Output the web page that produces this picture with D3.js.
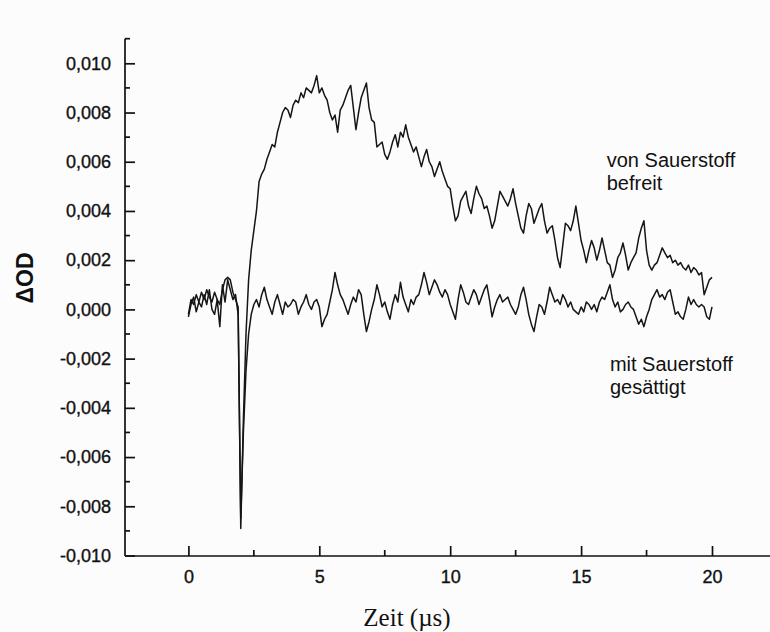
<!DOCTYPE html>
<html>
<head>
<meta charset="utf-8">
<script src="https://cdn.jsdelivr.net/npm/d3@7"></script>
<style>
  html, body { margin: 0; padding: 0; background: #fcfcfc; }
  svg { display: block; }
  .tick text { font-family: "Liberation Sans", Arial, sans-serif; font-size: 18px; fill: #111; stroke: #111; stroke-width: 0.35px; }
</style>
</head>
<body>
<svg id="chart" width="770" height="632"></svg>
<script>
// Transient absorption traces (ΔOD vs. time), sampled every 0.1 µs from 0 to 20 µs
const sampleStep = 0.1;

// Solution freed of oxygen: bleach spike at ~2 µs, then a slow-decaying absorption
const deoxygenated = [
  -0.0002, 0.0004, 0.0002, 0.0006, 0.0003, 0.0007, 0.0004, 0.0008, 0.0005, 0.0003,
  0.0007, 0.0004, 0.0002, 0.0008, 0.0012, 0.0013, 0.0012, 0.0007, 0.0004, 0.0001,
  -0.0089, -0.0045, -0.0010, 0.0012, 0.0024, 0.0032, 0.0040, 0.0052, 0.0055, 0.0057,
  0.0061, 0.0064, 0.0067, 0.0066, 0.0072, 0.0076, 0.0080, 0.0082, 0.0081, 0.0078,
  0.0083, 0.0085, 0.0084, 0.0088, 0.0086, 0.0090, 0.0089, 0.0088, 0.0091, 0.0095,
  0.0088, 0.0090, 0.0087, 0.0085, 0.0080, 0.0077, 0.0079, 0.0072, 0.0081, 0.0083,
  0.0086, 0.0089, 0.0091, 0.0082, 0.0073, 0.0080, 0.0086, 0.0089, 0.0092, 0.0082,
  0.0077, 0.0076, 0.0066, 0.0067, 0.0068, 0.0063, 0.0061, 0.0064, 0.0068, 0.0071,
  0.0066, 0.0072, 0.0070, 0.0075, 0.0070, 0.0067, 0.0064, 0.0066, 0.0062, 0.0058,
  0.0062, 0.0065, 0.0060, 0.0058, 0.0054, 0.0057, 0.0060, 0.0056, 0.0053, 0.0050,
  0.0049, 0.0042, 0.0036, 0.0038, 0.0044, 0.0046, 0.0048, 0.0042, 0.0039, 0.0045,
  0.0050, 0.0047, 0.0045, 0.0041, 0.0042, 0.0038, 0.0033, 0.0036, 0.0042, 0.0048,
  0.0046, 0.0044, 0.0042, 0.0045, 0.0049, 0.0043, 0.0038, 0.0033, 0.0031, 0.0038,
  0.0043, 0.0041, 0.0035, 0.0038, 0.0041, 0.0043, 0.0036, 0.0031, 0.0033, 0.0034,
  0.0028, 0.0021, 0.0017, 0.0026, 0.0035, 0.0034, 0.0032, 0.0036, 0.0042, 0.0035,
  0.0028, 0.0024, 0.0019, 0.0024, 0.0028, 0.0025, 0.0020, 0.0024, 0.0029, 0.0024,
  0.0019, 0.0018, 0.0013, 0.0016, 0.0021, 0.0023, 0.0027, 0.0022, 0.0016, 0.0019,
  0.0021, 0.0023, 0.0029, 0.0033, 0.0036, 0.0024, 0.0018, 0.0016, 0.0018, 0.0019,
  0.0022, 0.0025, 0.0023, 0.0021, 0.0022, 0.0019, 0.0020, 0.0018, 0.0019, 0.0017,
  0.0016, 0.0018, 0.0015, 0.0017, 0.0016, 0.0014, 0.0015, 0.0006, 0.0009, 0.0012,
  0.0013
];

// Oxygen-saturated solution: the same spike, then only baseline noise
const oxygenated = [
  -0.0003, 0.0002, 0.0005, -0.0001, 0.0003, 0.0001, 0.0006, 0.0002, 0.0008, 0.0000,
  -0.0002, 0.0004, -0.0007, 0.0010, 0.0003, 0.0012, 0.0008, 0.0004, 0.0006, -0.0002,
  -0.0085, -0.0050, -0.0025, -0.0010, -0.0002, 0.0002, 0.0004, 0.0001, 0.0006, 0.0009,
  0.0004, 0.0001, -0.0002, 0.0003, 0.0006, 0.0002, -0.0002, 0.0003, 0.0001, 0.0002,
  0.0004, 0.0003, -0.0002, 0.0001, 0.0003, 0.0006, 0.0002, 0.0000, 0.0003, 0.0004,
  0.0001, -0.0007, -0.0004, -0.0002, 0.0003, 0.0008, 0.0015, 0.0010, 0.0006, 0.0004,
  0.0001, -0.0002, 0.0002, 0.0005, 0.0003, 0.0008, 0.0006, -0.0002, -0.0009, -0.0005,
  0.0000, 0.0004, 0.0010, 0.0006, 0.0001, 0.0003, -0.0001, -0.0004, 0.0002, 0.0006,
  0.0003, 0.0011, 0.0005, 0.0002, -0.0001, 0.0004, 0.0002, 0.0005, 0.0006, 0.0010,
  0.0015, 0.0011, 0.0006, 0.0009, 0.0012, 0.0010, 0.0007, 0.0005, 0.0008, 0.0006,
  0.0002, -0.0001, -0.0004, 0.0004, 0.0010, 0.0007, 0.0003, 0.0002, 0.0005, 0.0008,
  0.0006, 0.0002, 0.0005, 0.0008, 0.0010, 0.0004, -0.0003, 0.0001, 0.0004, 0.0006,
  0.0003, 0.0004, 0.0005, 0.0002, 0.0000, -0.0002, 0.0001, 0.0006, 0.0009, 0.0004,
  -0.0002, -0.0006, -0.0009, -0.0003, 0.0002, 0.0001, -0.0002, 0.0003, 0.0009, 0.0006,
  0.0003, 0.0004, 0.0002, 0.0006, 0.0004, 0.0001, 0.0003, 0.0000, -0.0001, -0.0002,
  0.0001, -0.0001, 0.0003, 0.0002, 0.0000, 0.0002, -0.0001, 0.0003, 0.0005, 0.0004,
  0.0007, 0.0010, 0.0004, 0.0001, 0.0003, -0.0001, 0.0000, 0.0002, 0.0003, 0.0001,
  0.0000, -0.0003, -0.0006, -0.0004, -0.0007, -0.0003, 0.0000, 0.0004, 0.0006, 0.0008,
  0.0005, 0.0006, 0.0004, 0.0007, 0.0008, 0.0003, -0.0002, -0.0001, -0.0003, -0.0004,
  0.0000, 0.0005, 0.0002, 0.0004, 0.0002, 0.0001, 0.0002, 0.0001, -0.0003, -0.0004,
  0.0001
];

const xTickValues = [0, 5, 10, 15, 20];
const xMinorValues = [2.5, 7.5, 12.5, 17.5];
const yTickValues = [-0.010, -0.008, -0.006, -0.004, -0.002, 0.000, 0.002, 0.004, 0.006, 0.008, 0.010];
const yMinorValues = [-0.009, -0.007, -0.005, -0.003, -0.001, 0.001, 0.003, 0.005, 0.007, 0.009, 0.011];

const seriesLabels = [
  { lines: ["von Sauerstoff", "befreit"], t: 15.98, v: 0.0058 },
  { lines: ["mit Sauerstoff", "gesättigt"], t: 16.1, v: -0.0025 }
];
const xTitle = "Zeit (µs)";
const yTitle = "ΔOD";

// ---- drawing ----
const svg = d3.select("#chart");
const axisLeftX = 125, axisBottomY = 556;

const x = d3.scaleLinear().domain([0, 20]).range([188.4, 712]);
const y = d3.scaleLinear().domain([-0.010, 0.010]).range([555.5, 63.3]);

const locale = d3.formatLocale({ decimal: ",", thousands: ".", grouping: [3], currency: ["", " €"], minus: "-" });
const fmt3 = locale.format(".3f");

const ink = "#111";

// y axis: major ticks with labels, minor ticks in between, all pointing inward
const gy = svg.append("g").attr("transform", `translate(${axisLeftX},0)`);
gy.call(d3.axisLeft(y).tickValues(yTickValues).tickFormat(fmt3).tickSize(-10).tickPadding(14));
gy.append("g").selectAll("line").data(yMinorValues).join("line")
  .attr("x1", 0).attr("x2", 5).attr("y1", d => y(d)).attr("y2", d => y(d));
gy.select(".domain").remove();
gy.append("line").attr("x1", 0).attr("x2", 0).attr("y1", y(0.011)).attr("y2", axisBottomY);
gy.selectAll("line").attr("stroke", ink).attr("stroke-width", 1.7);

// x axis
const gx = svg.append("g").attr("transform", `translate(0,${axisBottomY})`);
gx.call(d3.axisBottom(x).tickValues(xTickValues).tickFormat(d3.format("d")).tickSize(-10).tickPadding(14));
gx.append("g").selectAll("line").data(xMinorValues).join("line")
  .attr("x1", d => x(d)).attr("x2", d => x(d)).attr("y1", 0).attr("y2", -6);
gx.select(".domain").remove();
gx.append("line").attr("x1", axisLeftX).attr("x2", 770).attr("y1", 0).attr("y2", 0);
gx.selectAll("line").attr("stroke", ink).attr("stroke-width", 1.7);

// traces
const line = d3.line()
  .x((d, i) => x(i * sampleStep))
  .y(d => y(d));

[oxygenated, deoxygenated].forEach(values => {
  svg.append("path")
    .datum(values)
    .attr("d", line)
    .attr("fill", "none")
    .attr("stroke", "#151515")
    .attr("stroke-width", 1.5)
    .attr("stroke-linejoin", "round");
});

// series annotations
seriesLabels.forEach(lab => {
  const t = svg.append("text")
    .attr("x", x(lab.t)).attr("y", y(lab.v))
    .attr("font-family", "Liberation Sans, Arial, sans-serif")
    .attr("font-size", 20).attr("fill", ink);
  lab.lines.forEach((s, i) => {
    t.append("tspan").attr("x", x(lab.t)).attr("dy", i === 0 ? 0 : 23.5).text(s);
  });
});

// axis titles
svg.append("text")
  .attr("transform", `translate(33,278) rotate(-90)`)
  .attr("text-anchor", "middle")
  .attr("font-family", "Liberation Sans, Arial, sans-serif")
  .attr("font-weight", "bold").attr("font-size", 23).attr("fill", ink)
  .text(yTitle);

svg.append("text")
  .attr("x", 407).attr("y", 626)
  .attr("text-anchor", "middle")
  .attr("font-family", "Liberation Serif, Times New Roman, serif")
  .attr("font-size", 25).attr("fill", ink)
  .text(xTitle);
</script>
</body>
</html>
